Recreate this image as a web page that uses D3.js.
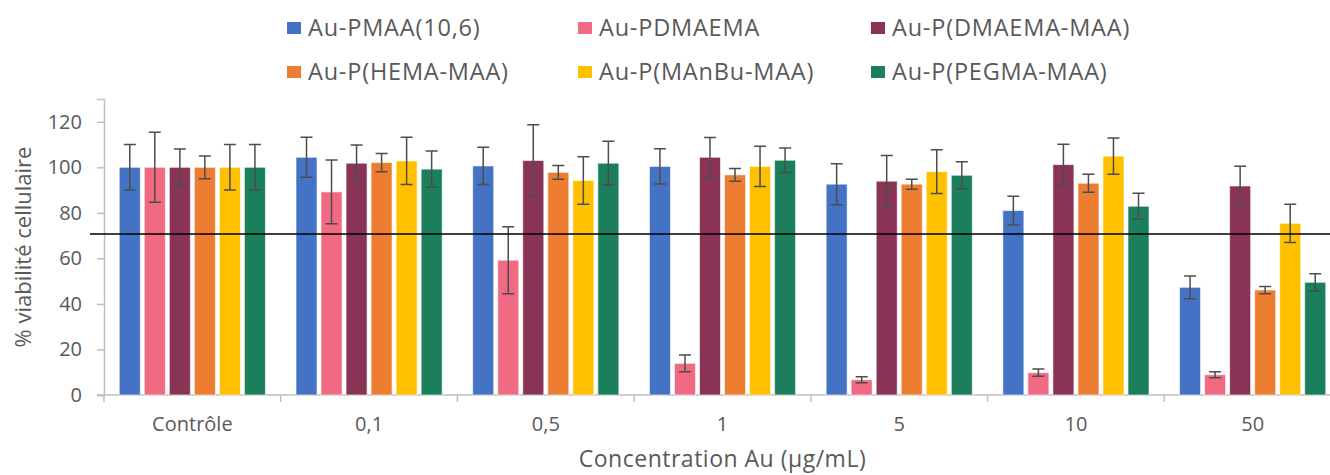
<!DOCTYPE html>
<html>
<head>
    <meta charset="utf-8">
    <title>Viabilité cellulaire</title>
    <script src="https://d3js.org/d3.v7.min.js"></script>
    <style>
        body { margin: 0; background: #fff; }
        text { font-family: "Open Sans", sans-serif; fill: #595959; }
    </style>
</head>
<body>
    <div id="chart"></div>
    <script>

        var categories = ["Contrôle", "0,1", "0,5", "1", "5", "10", "50"];
        var seriesNames = ["Au-PMAA(10,6)", "Au-PDMAEMA", "Au-P(DMAEMA-MAA)",
                           "Au-P(HEMA-MAA)", "Au-P(MAnBu-MAA)", "Au-P(PEGMA-MAA)"];
        var colors = ["#4472C4", "#F06A82", "#893455", "#ED7D31", "#FFC000", "#1B7F5B"];

        var pmaa      = [100, 104.4, 100.6, 100.4, 92.6, 81.0, 47.3];
        var pdmaema   = [100, 89.2, 59.2, 13.9, 6.7, 9.8, 8.9];
        var dmaemaMaa = [100, 101.8, 103.0, 104.4, 93.9, 101.2, 91.8];
        var hemaMaa   = [100, 102.1, 97.8, 96.7, 92.6, 93.0, 46.1];
        var manbuMaa  = [100, 102.8, 94.2, 100.4, 98.1, 104.9, 75.4];
        var pegmaMaa  = [100, 99.2, 101.8, 103.1, 96.5, 82.9, 49.5];

        var pmaaErr      = [10, 8.8, 8.2, 7.7, 9.0, 6.3, 5.0];
        var pdmaemaErr   = [15.4, 14.0, 14.7, 3.7, 1.3, 1.6, 1.3];
        var dmaemaMaaErr = [8.0, 8.0, 15.7, 8.7, 11.3, 8.9, 8.7];
        var hemaMaaErr   = [5.0, 4.0, 3.0, 2.8, 2.2, 3.9, 1.6];
        var manbuMaaErr  = [10, 10.4, 10.4, 8.8, 9.6, 8.0, 8.4];
        var pegmaMaaErr  = [10, 8.0, 9.6, 5.4, 5.9, 5.7, 3.8];

        var yTicks = [0, 20, 40, 60, 80, 100, 120];
        var threshold = 70.7;

        var values = [pmaa, pdmaema, dmaemaMaa, hemaMaa, manbuMaa, pegmaMaa];
        var errors = [pmaaErr, pdmaemaErr, dmaemaMaaErr, hemaMaaErr, manbuMaaErr, pegmaMaaErr];

        var width = 1330, height = 475;
        var plot = { left: 104, right: 1341, top: 99, bottom: 395 };

        var svg = d3.select("#chart")
            .append("svg")
            .attr("width", width)
            .attr("height", height);

        var x0 = d3.scaleBand()
            .domain(categories)
            .range([plot.left, plot.right])
            .padding(0);

        var x1 = d3.scaleBand()
            .domain(seriesNames)
            .range([0, x0.bandwidth()])
            .paddingInner(0.16)
            .paddingOuter(0.61);

        var y = d3.scaleLinear()
            .domain([0, 130])
            .range([plot.bottom, plot.top]);

        // axes
        var yAxis = svg.append("g")
            .attr("transform", "translate(" + plot.left + ",0)")
            .call(d3.axisLeft(y).tickValues(yTicks).tickSize(7).tickPadding(15));
        yAxis.select(".domain").attr("stroke", "#bfbfbf").attr("stroke-width", 1.5);
        yAxis.selectAll(".tick line").attr("stroke", "#bfbfbf").attr("stroke-width", 1.5);
        yAxis.selectAll("text").style("font-size", "20px").attr("fill", "#595959");

        var xAxis = svg.append("g")
            .attr("transform", "translate(0," + plot.bottom + ")")
            .call(d3.axisBottom(x0).tickSize(0).tickPadding(22));
        xAxis.select(".domain").attr("d", "M" + (plot.left - 7) + ",0H" + plot.right)
            .attr("stroke", "#bfbfbf").attr("stroke-width", 1.5);
        xAxis.selectAll("text").style("font-size", "20px").attr("fill", "#595959");

        // category separators
        svg.append("g").selectAll("line")
            .data(categories)
            .join("line")
            .attr("x1", function(d) { return x0(d); })
            .attr("x2", function(d) { return x0(d); })
            .attr("y1", plot.bottom)
            .attr("y2", plot.bottom + 7)
            .attr("stroke", "#bfbfbf")
            .attr("stroke-width", 1.5);

        // bars
        var groups = svg.append("g").selectAll("g")
            .data(seriesNames)
            .join("g")
            .attr("fill", function(d, i) { return colors[i]; });

        groups.selectAll("rect")
            .data(function(d, i) {
                return categories.map(function(c, j) {
                    return { cat: c, name: d, v: values[i][j], e: errors[i][j] };
                });
            })
            .join("rect")
            .attr("x", function(d) { return x0(d.cat) + x1(d.name); })
            .attr("y", function(d) { return y(d.v); })
            .attr("width", x1.bandwidth())
            .attr("height", function(d) { return y(0) - y(d.v); })
            .attr("stroke", "#ffffff")
            .attr("stroke-opacity", 0.6)
            .attr("stroke-width", 1);

        // error bars
        var capW = 12;
        groups.each(function(name, i) {
            var g = d3.select(this);
            categories.forEach(function(c, j) {
                var cx = x0(c) + x1(name) + x1.bandwidth() / 2;
                var top = y(values[i][j] + errors[i][j]);
                var bot = y(values[i][j] - errors[i][j]);
                g.append("path")
                    .attr("d", "M" + cx + "," + top + "V" + bot +
                        "M" + (cx - capW / 2) + "," + top + "h" + capW +
                        "M" + (cx - capW / 2) + "," + bot + "h" + capW)
                    .attr("fill", "none")
                    .attr("stroke", "#4d4d4d")
                    .attr("stroke-width", 1.5);
            });
        });

        // threshold line
        svg.append("line")
            .attr("x1", 90)
            .attr("x2", width)
            .attr("y1", y(threshold))
            .attr("y2", y(threshold))
            .attr("stroke", "#000")
            .attr("stroke-width", 1.5);

        // titles
        svg.append("text")
            .attr("x", (plot.left + plot.right) / 2)
            .attr("y", 467)
            .attr("text-anchor", "middle")
            .style("font-size", "23px")
            .style("letter-spacing", "0.5px")
            .text("Concentration Au (µg/mL)");

        svg.append("text")
            .attr("transform", "translate(31," + 247 + ") rotate(-90)")
            .attr("text-anchor", "middle")
            .style("font-size", "22px")
            .text("% viabilité cellulaire");

        // legend
        var legendX = [287, 578, 871];
        var legendY = [28, 72];
        var legend = svg.append("g").selectAll("g")
            .data(seriesNames)
            .join("g")
            .attr("transform", function(d, i) {
                return "translate(" + legendX[i % 3] + "," + legendY[Math.floor(i / 3)] + ")";
            });
        legend.append("rect")
            .attr("x", 0)
            .attr("y", -6)
            .attr("width", 14)
            .attr("height", 12)
            .attr("fill", function(d, i) { return colors[i]; });
        legend.append("text")
            .attr("x", 21)
            .attr("y", 0)
            .attr("dy", "0.35em")
            .style("font-size", "23.5px")
            .style("letter-spacing", "0.8px")
            .text(function(d) { return d; });

    </script>
</body>
</html>
